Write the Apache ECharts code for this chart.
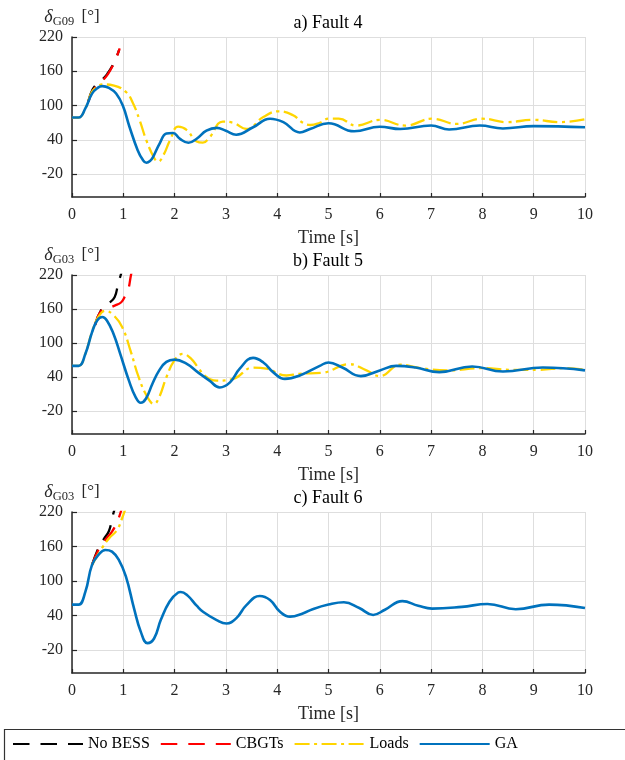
<!DOCTYPE html>
<html>
<head>
<meta charset="utf-8">
<script src="https://cdn.jsdelivr.net/npm/echarts@6/dist/echarts.min.js"></script>
<style>
  html, body { margin: 0; padding: 0; background: #fff; }
  #chart { width: 625px; height: 760px; }
</style>
</head>
<body>
<div id="chart"></div>
<script>
// 刻度
const yTicks = [-20, 40, 100, 160, 220]
const seriesNames = ['No BESS', 'CBGTs', 'Loads', 'GA']
const panelTitles = ['a) Fault 4', 'b) Fault 5', 'c) Fault 6']
const panelMachines = ['G09', 'G03', 'G03']

// a) Fault 4  [t, delta]
const faultA_noBess = [[0.32, 108], [0.4, 128], [0.5, 139], [0.62, 148], [0.7, 157], [0.79, 170], [0.86, 183], [0.92, 198]]
const faultA_cbgt = [[0.32, 107], [0.4, 125], [0.5, 136], [0.62, 146], [0.7, 155], [0.79, 169], [0.86, 183], [0.93, 200]]
const faultA_loads = [[0, 79], [0.13, 79], [0.26, 95], [0.39, 124], [0.5, 133], [0.59, 137], [0.82, 135], [1.05, 124], [1.18, 106],
  [1.32, 74], [1.45, 39], [1.61, 7], [1.68, 2], [1.78, 13], [1.91, 39], [2.07, 63], [2.24, 57], [2.43, 37], [2.55, 35],
  [2.68, 44], [2.94, 72], [3.14, 70], [3.4, 59], [3.73, 80], [4.02, 90], [4.31, 83], [4.5, 70], [4.65, 66], [4.83, 70],
  [5, 77], [5.2, 77], [5.54, 65], [6, 75], [6.5, 65], [7.02, 77], [7.5, 68], [8, 77], [8.47, 71], [9, 75], [9.5, 71], [10, 76]]
const faultA_ga = [[0, 79], [0.13, 79], [0.26, 95], [0.39, 121], [0.5, 131], [0.59, 134], [0.72, 131], [0.86, 121], [0.99, 100],
  [1.12, 63], [1.28, 22], [1.38, 5], [1.45, 0], [1.52, 3], [1.58, 10], [1.71, 34], [1.84, 51], [1.97, 52], [2.1, 42],
  [2.27, 35], [2.43, 42], [2.62, 56], [2.82, 61], [3.0, 56], [3.2, 49], [3.53, 62], [3.86, 77], [4.12, 71], [4.44, 53],
  [4.64, 59], [5, 69], [5.5, 55], [6, 63], [6.4, 59], [7, 65], [7.35, 58], [7.95, 65], [8.4, 60], [9, 64], [10, 62]]

// b) Fault 5
const faultB_noBess = [[0.45, 132], [0.56, 157], [0.7, 169], [0.83, 181], [0.9, 205], [0.95, 220], [0.98, 230]]
const faultB_cbgt = [[0.45, 132], [0.56, 156], [0.65, 159], [0.83, 166], [0.96, 172], [1.03, 182], [1.09, 192], [1.15, 220], [1.18, 232]]
const faultB_loads = [[0, 60], [0.13, 60], [0.26, 81], [0.39, 120], [0.52, 147], [0.65, 157], [0.81, 149], [0.98, 128], [1.14, 87],
  [1.3, 40], [1.47, 5], [1.6, -7], [1.7, 5], [1.84, 40], [2.0, 70], [2.16, 81], [2.33, 72], [2.45, 58], [2.6, 42],
  [2.82, 34], [3.14, 37], [3.53, 57], [3.79, 55], [4.18, 43], [4.43, 46], [4.89, 48], [5.4, 63], [5.74, 52], [6, 42],
  [6.4, 62], [6.8, 56], [7.35, 52], [7.95, 56], [8.6, 53], [9.1, 53], [9.6, 56], [10, 53]]
const faultB_ga = [[0, 60], [0.13, 60], [0.26, 81], [0.39, 119], [0.49, 140], [0.59, 146], [0.68, 140], [0.81, 116], [0.94, 81],
  [1.11, 34], [1.24, 5], [1.34, -5], [1.44, 2], [1.57, 29], [1.7, 52], [1.84, 67], [2.0, 71], [2.23, 64], [2.45, 49],
  [2.68, 34], [2.88, 22], [3.08, 31], [3.27, 55], [3.53, 74], [3.73, 66], [3.92, 49], [4.15, 37], [4.44, 43], [4.83, 60],
  [5, 66], [5.27, 57], [5.63, 42], [6, 52], [6.32, 60], [6.7, 57], [7.16, 49], [7.8, 59], [8.4, 50], [9.18, 57], [10, 52]]

// c) Fault 6
const faultC_noBess = [[0.39, 128], [0.52, 158], [0.62, 173], [0.72, 187], [0.79, 212], [0.84, 228]]
const faultC_cbgt = [[0.39, 128], [0.52, 155], [0.65, 172], [0.78, 186], [0.88, 203], [0.95, 220], [0.98, 230]]
const faultC_loads = [[0.39, 128], [0.59, 158], [0.72, 174], [0.88, 189], [0.98, 210], [1.02, 220], [1.05, 228]]
const faultC_ga = [[0, 59], [0.13, 59], [0.26, 81], [0.39, 128], [0.52, 146], [0.65, 154], [0.78, 151], [0.91, 137], [1.05, 108],
  [1.21, 52], [1.34, 12], [1.47, -8], [1.6, 0], [1.73, 32], [1.9, 64], [2.07, 80], [2.12, 81], [2.25, 75], [2.43, 57],
  [2.56, 46], [2.82, 32], [3.01, 26], [3.2, 35], [3.4, 58], [3.66, 74], [3.86, 67], [4.05, 47], [4.25, 38], [4.51, 44],
  [4.69, 51], [5, 59], [5.3, 63], [5.6, 53], [5.87, 41], [6.1, 50], [6.44, 65], [6.75, 57], [7.02, 52], [7.6, 55],
  [8.1, 60], [8.65, 51], [9.3, 59], [10, 53]]

const panelData = [
  [faultA_noBess, faultA_cbgt, faultA_loads, faultA_ga],
  [faultB_noBess, faultB_cbgt, faultB_loads, faultB_ga],
  [faultC_noBess, faultC_cbgt, faultC_loads, faultC_ga],
]

const font = 'Liberation Serif'
const ink = '#262626'
const lineStyles = [
  { color: '#000000', width: 2.3, type: [16.5, 11] },
  { color: '#ff0000', width: 2.3, type: [16.5, 11] },
  { color: '#ffd500', width: 2.3, type: [15, 4.5, 3, 4.5] },
  { color: '#0072bd', width: 2.6, type: 'solid' },
]

const grids = [
  { left: 72, right: 40, top: 37, height: 160 },
  { left: 72, right: 40, top: 275, height: 159 },
  { left: 72, right: 40, top: 512, height: 161 },
]

const myEchart = echarts.init(document.querySelector('#chart'))

const xAxes = grids.map((g, i) => ({
  type: 'value',
  gridIndex: i,
  min: 0,
  max: 10,
  interval: 1,
  name: 'Time [s]',
  nameLocation: 'middle',
  nameGap: 32,
  nameTextStyle: { fontFamily: font, fontSize: 18, color: ink },
  axisLine: { onZero: false, lineStyle: { color: ink, width: 1.5 } },
  axisTick: { inside: true, length: 4, lineStyle: { color: ink, width: 1.2 } },
  axisLabel: { fontFamily: font, fontSize: 16, color: ink, margin: 10 },
  splitLine: { show: true, lineStyle: { color: '#dedede', width: 1 } },
}))

const yAxes = grids.map((g, i) => ({
  type: 'value',
  gridIndex: i,
  min: -60,
  max: 220,
  name: '{d|δ}{s|' + panelMachines[i] + '} [°]',
  nameLocation: 'end',
  nameGap: 9,
  nameTextStyle: {
    fontFamily: font,
    fontSize: 17,
    color: ink,
    rich: {
      d: { fontFamily: font, fontSize: 18, fontStyle: 'italic', color: ink },
      s: { fontFamily: font, fontSize: 12.5, color: ink, padding: [9, 3, 0, 0] },
    },
  },
  axisLine: { onZero: false, lineStyle: { color: ink, width: 1.5 } },
  axisTick: { inside: true, length: 5, customValues: yTicks, lineStyle: { color: ink, width: 1.2 } },
  axisLabel: { fontFamily: font, fontSize: 16, color: ink, margin: 9, customValues: yTicks },
  splitLine: { show: true, lineStyle: { color: '#dedede', width: 1 } },
}))

const series = []
panelData.forEach((lines, i) => {
  lines.forEach((data, k) => {
    series.push({
      name: seriesNames[k],
      type: 'line',
      xAxisIndex: i,
      yAxisIndex: i,
      data: data,
      smooth: 0.45,
      symbol: 'none',
      clip: true,
      lineStyle: lineStyles[k],
      itemStyle: { color: lineStyles[k].color },
      z: 2 + k,
    })
  })
})

const titles = panelTitles.map((t, i) => ({
  type: 'text',
  x: 328,
  y: grids[i].top - 14,
  style: {
    text: t,
    fontFamily: font,
    fontSize: 18,
    fill: '#000',
    textAlign: 'center',
    textVerticalAlign: 'middle',
  },
}))

myEchart.setOption({
  animation: false,
  backgroundColor: '#fff',
  grid: grids,
  xAxis: xAxes,
  yAxis: yAxes,
  legend: {
    data: seriesNames,
    left: 12,
    top: 736,
    padding: 0,
    itemWidth: 70,
    itemHeight: 14,
    itemGap: 10,
    itemStyle: { opacity: 0 },
    textStyle: { fontFamily: font, fontSize: 16, color: '#000' },
  },
  graphic: [
    ...titles,
    {
      type: 'rect',
      shape: { x: 4.5, y: 729.5, width: 700, height: 80 },
      style: { fill: 'none', stroke: '#333', lineWidth: 1.2 },
      silent: true,
    },
  ],
  series: series,
})
</script>
</body>
</html>
